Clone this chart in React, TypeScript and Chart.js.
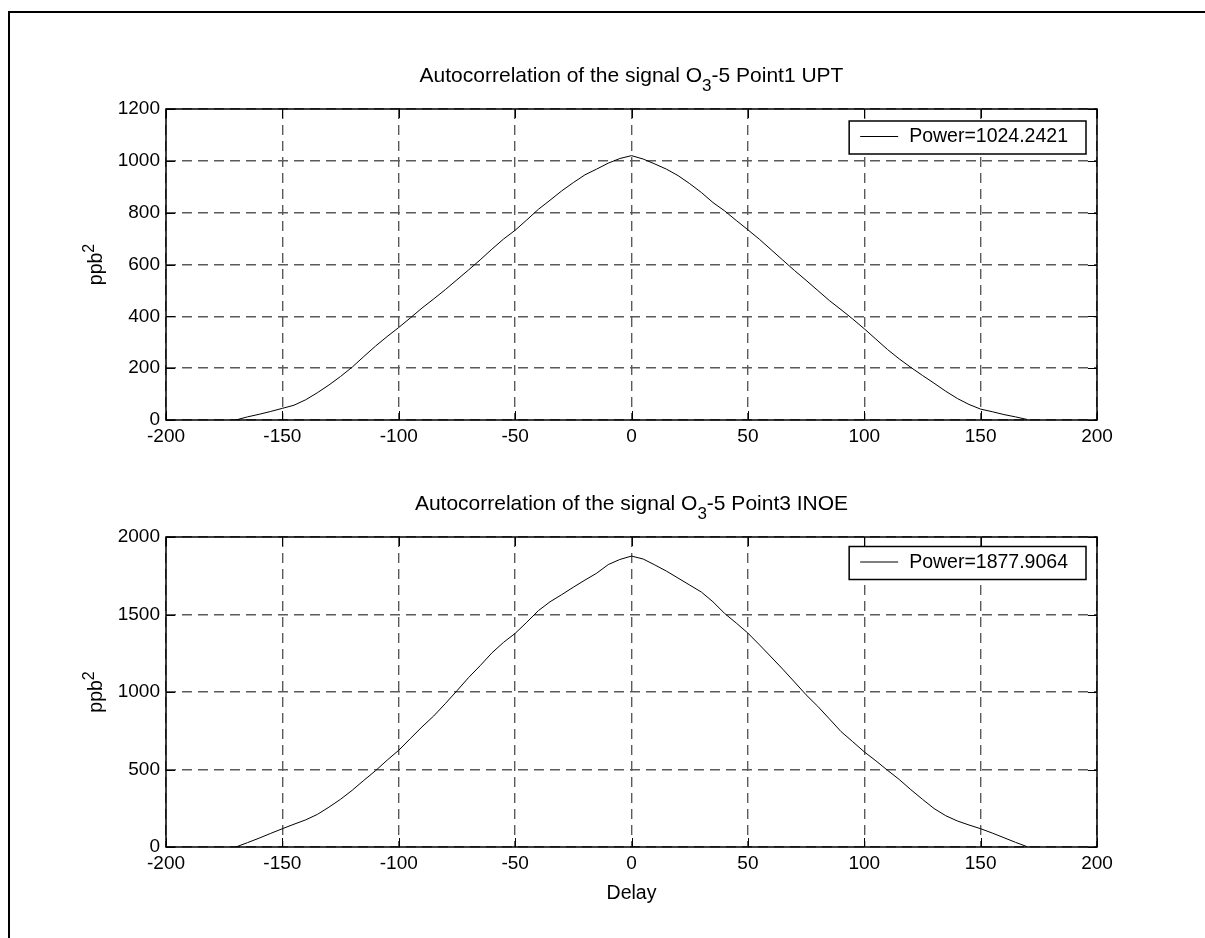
import React, { useEffect, useRef } from "react";
import { Chart, registerables } from "chart.js";

Chart.register(...registerables);

const FONT = "'Liberation Sans', Arial, sans-serif";

// ---- data ----
const LAGS = [
  -170, -165, -160, -155, -150, -145, -140, -135, -130, -125, -120, -115, -110, -105, -100,
  -95, -90, -85, -80, -75, -70, -65, -60, -55, -50, -45, -40, -35, -30, -25, -20, -15, -10, -5,
  0, 5, 10, 15, 20, 25, 30, 35, 40, 45, 50, 55, 60, 65, 70, 75, 80, 85, 90, 95, 100,
  105, 110, 115, 120, 125, 130, 135, 140, 145, 150, 155, 160, 165, 170,
];

const UPT_VALUES = [
  0, 12, 22, 33, 45, 57, 78, 105, 135, 168, 204, 245, 285, 322, 357,
  394, 432, 467, 503, 541, 579, 618, 659, 698, 732, 772, 813, 848, 884, 916, 946, 968, 991, 1009,
  1020, 1007, 988, 968, 943, 912, 878, 839, 807, 770, 734, 697, 657, 617, 577, 539, 500, 461, 426, 390, 352,
  312, 272, 236, 203, 172, 142, 111, 83, 60, 42, 32, 21, 12, 2,
];

const INOE_VALUES = [
  0, 28, 57, 88, 118, 147, 175, 210, 257, 308, 366, 430, 492, 560, 624,
  700, 775, 845, 925, 1008, 1093, 1170, 1252, 1320, 1378, 1450, 1525, 1582, 1628, 1676, 1722, 1766, 1822, 1855,
  1877, 1858, 1820, 1780, 1735, 1690, 1645, 1582, 1507, 1445, 1380, 1304, 1226, 1147, 1065, 982, 908, 827, 745, 680, 614,
  556, 495, 436, 370, 308, 248, 202, 168, 142, 118, 90, 60, 30, 2,
];

const X_TICKS = [-200, -150, -100, -50, 0, 50, 100, 150, 200];
const UPT_Y_TICKS = [0, 200, 400, 600, 800, 1000, 1200];
const INOE_Y_TICKS = [0, 500, 1000, 1500, 2000];

const TITLE_UPT = ["Autocorrelation of the signal O", "3", "-5 Point1 UPT"];
const TITLE_INOE = ["Autocorrelation of the signal O", "3", "-5 Point3 INOE"];
const LEGEND_UPT = "Power=1024.2421";
const LEGEND_INOE = "Power=1877.9064";
const Y_LABEL = ["ppb", "2"];
const X_LABEL = "Delay";

// ---- decoration plugin (MATLAB-like box, inward ticks, legend, titles) ----
const matlabDecor = {
  id: "matlabDecor",
  afterDraw(chart: any, _args: any, opts: any) {
    const { ctx, chartArea: a, scales } = chart;
    const xs = scales.x;
    const ys = scales.y;
    ctx.save();

    // inward tick marks
    ctx.strokeStyle = "#000";
    ctx.lineWidth = 1;
    ctx.setLineDash([]);
    const TL = 9;
    xs.ticks.forEach((t: any) => {
      const px = Math.round(xs.getPixelForValue(t.value)) + 0.5;
      ctx.beginPath();
      ctx.moveTo(px, a.bottom);
      ctx.lineTo(px, a.bottom - TL);
      ctx.moveTo(px, a.top);
      ctx.lineTo(px, a.top + TL);
      ctx.stroke();
    });
    ys.ticks.forEach((t: any) => {
      const py = Math.round(ys.getPixelForValue(t.value)) + 0.5;
      ctx.beginPath();
      ctx.moveTo(a.left, py);
      ctx.lineTo(a.left + TL, py);
      ctx.moveTo(a.right, py);
      ctx.lineTo(a.right - TL, py);
      ctx.stroke();
    });

    // axes box
    ctx.lineWidth = 1.5;
    ctx.strokeRect(a.left, a.top, a.right - a.left, a.bottom - a.top);

    // legend
    const size = 19.5;
    ctx.font = `${size}px ${FONT}`;
    const text = chart.data.datasets[0].label;
    const tw = ctx.measureText(text).width;
    const bw = 60 + tw + 18;
    const bh = 33;
    const bx = a.right - 11 - bw;
    const by = a.top + opts.legendTop;
    ctx.fillStyle = "#fff";
    ctx.fillRect(bx, by, bw, bh);
    ctx.lineWidth = 1.5;
    ctx.strokeStyle = "#000";
    ctx.strokeRect(bx, by, bw, bh);
    ctx.lineWidth = 1;
    ctx.beginPath();
    ctx.moveTo(bx + 11, by + 15.5);
    ctx.lineTo(bx + 49, by + 15.5);
    ctx.stroke();
    ctx.fillStyle = "#000";
    ctx.textAlign = "left";
    ctx.textBaseline = "alphabetic";
    ctx.fillText(text, bx + 60, by + 21);

    // title with subscript
    const [t1, sub, t2] = opts.title;
    const titleFont = `21px ${FONT}`;
    const subFont = `17px ${FONT}`;
    const mainFont = `${size}px ${FONT}`;
    ctx.font = titleFont;
    const w1 = ctx.measureText(t1).width;
    const w3 = ctx.measureText(t2).width;
    ctx.font = subFont;
    const w2 = ctx.measureText(sub).width;
    const total = w1 + w2 + w3;
    const cx = (a.left + a.right) / 2;
    let x = cx - total / 2;
    const ty = a.top - 27;
    ctx.font = titleFont;
    ctx.fillText(t1, x, ty);
    x += w1;
    ctx.font = subFont;
    ctx.fillText(sub, x, ty + 8.5);
    x += w2;
    ctx.font = titleFont;
    ctx.fillText(t2, x, ty);

    // y label with superscript (rotated)
    const [yl, sup] = opts.yLabel;
    const supFont = `16px ${FONT}`;
    ctx.save();
    ctx.translate(102, (a.top + a.bottom) / 2);
    ctx.rotate(-Math.PI / 2);
    ctx.font = mainFont;
    const yw1 = ctx.measureText(yl).width;
    ctx.font = supFont;
    const yw2 = ctx.measureText(sup).width;
    let yx = -(yw1 + yw2) / 2;
    ctx.font = mainFont;
    ctx.fillText(yl, yx, 0);
    yx += yw1;
    ctx.font = supFont;
    ctx.fillText(sup, yx, -8);
    ctx.restore();

    // x label
    if (opts.xLabel) {
      ctx.font = mainFont;
      ctx.textAlign = "center";
      ctx.fillText(opts.xLabel, cx, a.bottom + 52);
    }

    ctx.restore();
  },
};

function makeConfig(
  values: number[],
  yTicks: number[],
  legend: string,
  title: string[],
  padTop: number,
  padBottom: number,
  legendTop: number,
  xLabel: string | null
): any {
  const yMax = yTicks[yTicks.length - 1];
  const gridStyle = { color: "#5a5a5a", lineWidth: 1.4, drawTicks: false };
  return {
    type: "line",
    data: {
      datasets: [
        {
          label: legend,
          data: LAGS.map((lag, i) => ({ x: lag, y: values[i] })),
          borderColor: "#000",
          borderWidth: 1,
          pointRadius: 0,
          fill: false,
          tension: 0,
        },
      ],
    },
    options: {
      responsive: false,
      animation: false,
      devicePixelRatio: 1,
      events: [],
      layout: { padding: { left: 0, right: 108, top: padTop, bottom: padBottom } },
      plugins: {
        legend: { display: false },
        title: { display: false },
        tooltip: { enabled: false },
        matlabDecor: { legendTop, title, yLabel: Y_LABEL, xLabel },
      },
      scales: {
        x: {
          type: "linear",
          min: X_TICKS[0],
          max: X_TICKS[X_TICKS.length - 1],
          afterBuildTicks: (s: any) => {
            s.ticks = X_TICKS.map((v) => ({ value: v }));
          },
          afterFit: (s: any) => {
            s.height = 45;
          },
          ticks: {
            font: { family: FONT, size: 19 },
            color: "#000",
            padding: 5,
            maxRotation: 0,
            autoSkip: false,
            callback: (v: any) => String(v),
          },
          grid: gridStyle,
          border: { display: false, dash: [10, 6] },
        },
        y: {
          type: "linear",
          min: 0,
          max: yMax,
          afterBuildTicks: (s: any) => {
            s.ticks = yTicks.map((v) => ({ value: v }));
          },
          afterFit: (s: any) => {
            s.width = 166;
          },
          ticks: {
            font: { family: FONT, size: 19 },
            color: "#000",
            padding: 6,
            autoSkip: false,
            callback: (v: any) => String(v),
          },
          grid: gridStyle,
          border: { display: false, dash: [10, 6] },
        },
      },
    },
    plugins: [matlabDecor],
  };
}

export default function App() {
  const topRef = useRef<HTMLCanvasElement>(null);
  const botRef = useRef<HTMLCanvasElement>(null);

  useEffect(() => {
    const c1 = new Chart(
      topRef.current as HTMLCanvasElement,
      makeConfig(UPT_VALUES, UPT_Y_TICKS, LEGEND_UPT, TITLE_UPT, 109, 0, 12, null)
    );
    const c2 = new Chart(
      botRef.current as HTMLCanvasElement,
      makeConfig(INOE_VALUES, INOE_Y_TICKS, LEGEND_INOE, TITLE_INOE, 72, 46, 9.5, X_LABEL)
    );
    return () => {
      c1.destroy();
      c2.destroy();
    };
  }, []);

  return (
    <div
      style={{
        position: "fixed",
        left: 0,
        top: 0,
        width: 1205,
        height: 938,
        overflow: "hidden",
        background: "#fff",
      }}
    >
      <div
        style={{
          position: "absolute",
          left: 8,
          top: 11,
          width: 2000,
          height: 2000,
          borderLeft: "2px solid #000",
          borderTop: "2px solid #000",
        }}
      />
      <canvas
        ref={topRef}
        width={1205}
        height={465}
        style={{ position: "absolute", left: 0, top: 0, width: 1205, height: 465 }}
      />
      <canvas
        ref={botRef}
        width={1205}
        height={473}
        style={{ position: "absolute", left: 0, top: 465, width: 1205, height: 473 }}
      />
    </div>
  );
}
